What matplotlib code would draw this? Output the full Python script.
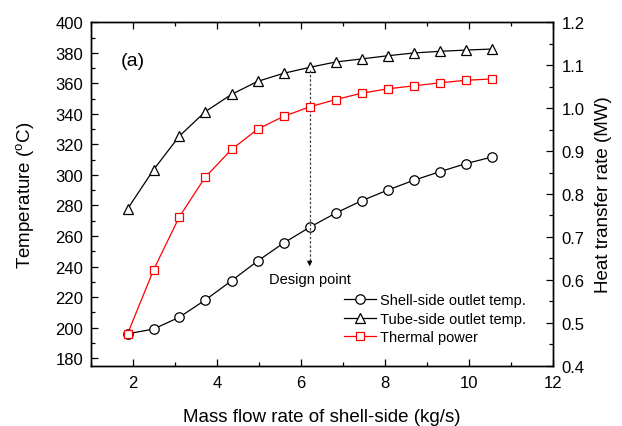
import numpy as np
import matplotlib.pyplot as plt
from matplotlib.ticker import MultipleLocator

plt.rcParams['font.family'] = ['Liberation Sans', 'DejaVu Sans']
plt.rcParams['mathtext.fontset'] = 'custom'
plt.rcParams['mathtext.rm'] = 'Liberation Sans'

flow = [1.87, 2.49, 3.10, 3.72, 4.35, 4.97, 5.59, 6.21, 6.83,
        7.45, 8.07, 8.69, 9.31, 9.93, 10.55]
shell_out = [195.9, 199.0, 206.7, 218.0, 230.7, 243.6, 255.4, 265.7, 275.0,
             283.1, 290.1, 296.5, 302.1, 307.4, 311.7]
tube_out = [277.7, 303.4, 325.3, 341.4, 352.8, 361.3, 366.6, 370.5, 374.0,
            376.0, 378.1, 379.9, 381.0, 381.8, 382.5]
power = [0.474, 0.623, 0.746, 0.839, 0.904, 0.951, 0.981, 1.003, 1.020,
         1.035, 1.045, 1.052, 1.059, 1.065, 1.068]

design_x = 6.21

fig = plt.figure(figsize=(6.22, 4.27), dpi=100)
ax = fig.add_axes([0.1463, 0.1412, 0.7423, 0.8042])
ax2 = ax.twinx()

l1, = ax.plot(flow, shell_out, color='black', lw=0.9, marker='o', ms=6.8,
              mfc='white', mec='black', mew=0.9, label='Shell-side outlet temp.')
l2, = ax.plot(flow, tube_out, color='black', lw=0.9, marker='^', ms=7.3,
              mfc='white', mec='black', mew=0.9, label='Tube-side outlet temp.')
l3, = ax2.plot(flow, power, color='red', lw=0.9, marker='s', ms=5.5,
               mfc='white', mec='red', mew=0.9, label='Thermal power')

# design point marker line
ax.plot([design_x, design_x], [369, 243], color='#444444', lw=0.9,
        ls=(0, (2, 1.5)))
ax.annotate('', xy=(design_x, 238.3), xytext=(design_x, 244),
            arrowprops=dict(arrowstyle='-|>', color='black', lw=0.8,
                            mutation_scale=7))
ax.text(design_x, 231.8, 'Design point', ha='center', va='center', fontsize=10.5)
ax.text(2.0, 375, '(a)', ha='center', va='center', fontsize=14)

ax.set_xlim(1, 12)
ax.set_ylim(175, 400)
ax2.set_ylim(0.4, 1.2)

ax.xaxis.set_major_locator(MultipleLocator(2))
ax.xaxis.set_minor_locator(MultipleLocator(1))
ax.yaxis.set_major_locator(MultipleLocator(20))
ax.yaxis.set_minor_locator(MultipleLocator(10))
ax2.yaxis.set_major_locator(MultipleLocator(0.1))
ax2.yaxis.set_minor_locator(MultipleLocator(0.05))
ax2.yaxis.set_major_formatter(plt.FormatStrFormatter('%.1f'))

ax.tick_params(axis='x', which='both', direction='in', top=True, labelsize=12, pad=7)
ax.tick_params(axis='y', which='both', direction='in', labelsize=12, pad=5.5)
ax2.tick_params(axis='y', which='both', direction='in', labelsize=12, pad=6.5)
for a in (ax, ax2):
    a.tick_params(which='major', length=5, width=0.9)
    a.tick_params(which='minor', length=3, width=0.9)
    for s in a.spines.values():
        s.set_linewidth(1.0)

ax.set_xlabel('Mass flow rate of shell-side (kg/s)', fontsize=13.5, labelpad=13)
ax.set_ylabel('Temperature ($^{\\rm o}$C)', fontsize=13.5, labelpad=13)
ax2.set_ylabel('Heat transfer rate (MW)', fontsize=13.5, labelpad=7.5)

ax.legend(handles=[l1, l2, l3], loc='lower left', bbox_to_anchor=(0.535, 0.045),
          frameon=False, fontsize=10.5, handlelength=2.2, handletextpad=0.3,
          labelspacing=0.32, borderaxespad=0)

fig.savefig('out.png', dpi=100)
